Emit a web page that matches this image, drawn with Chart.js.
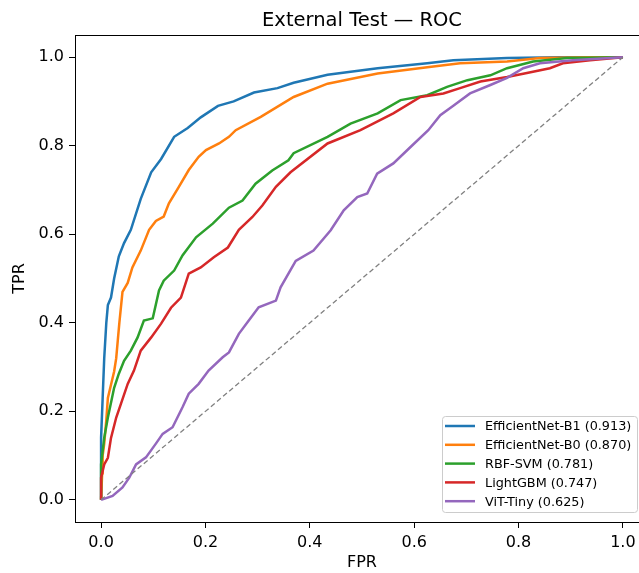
<!DOCTYPE html>
<html>
<head>
<meta charset="utf-8">
<script src="https://cdn.jsdelivr.net/npm/chart.js@4/dist/chart.umd.min.js"></script>
<style>
  html, body { margin: 0; padding: 0; background: #fff; overflow: hidden; }
  #wrap { position: relative; width: 639px; height: 573px; overflow: hidden; }
  canvas { position: absolute; left: 0; top: 0; }
</style>
</head>
<body>
<div id="wrap"><canvas id="roc" width="724" height="573"></canvas></div>
<script>
// ROC points (FPR, TPR)
const b1Fpr = [0, 0, 0.003, 0.006, 0.010, 0.013, 0.019, 0.025, 0.034, 0.044, 0.057, 0.076, 0.096, 0.115, 0.140, 0.166, 0.191, 0.224, 0.254, 0.293, 0.338, 0.369, 0.434, 0.530, 0.625, 0.675, 0.778, 0.880, 1];
const b1Tpr = [0, 0.14, 0.23, 0.32, 0.40, 0.44, 0.457, 0.50, 0.55, 0.58, 0.61, 0.68, 0.74, 0.77, 0.82, 0.84, 0.864, 0.89, 0.90, 0.92, 0.93, 0.942, 0.96, 0.975, 0.986, 0.993, 0.998, 1, 1];

const b0Fpr = [0, 0.002, 0.003, 0.006, 0.010, 0.013, 0.019, 0.025, 0.029, 0.032, 0.035, 0.041, 0.051, 0.060, 0.076, 0.092, 0.105, 0.120, 0.130, 0.149, 0.168, 0.187, 0.201, 0.226, 0.245, 0.258, 0.306, 0.369, 0.434, 0.530, 0.625, 0.688, 0.778, 0.841, 0.937, 1];
const b0Tpr = [0, 0.06, 0.10, 0.127, 0.18, 0.23, 0.26, 0.29, 0.32, 0.36, 0.40, 0.47, 0.49, 0.525, 0.563, 0.61, 0.63, 0.64, 0.67, 0.707, 0.745, 0.775, 0.79, 0.805, 0.82, 0.835, 0.865, 0.91, 0.94, 0.963, 0.977, 0.986, 0.99, 0.998, 1, 1];

const svmFpr = [0, 0, 0.006, 0.013, 0.025, 0.034, 0.044, 0.057, 0.070, 0.082, 0.099, 0.111, 0.120, 0.140, 0.156, 0.182, 0.214, 0.245, 0.271, 0.296, 0.328, 0.359, 0.369, 0.434, 0.478, 0.530, 0.574, 0.625, 0.663, 0.702, 0.746, 0.778, 0.828, 0.893, 1];
const svmTpr = [0, 0.08, 0.14, 0.186, 0.253, 0.285, 0.314, 0.337, 0.367, 0.405, 0.41, 0.473, 0.495, 0.518, 0.552, 0.593, 0.624, 0.66, 0.676, 0.714, 0.744, 0.767, 0.783, 0.82, 0.85, 0.873, 0.903, 0.914, 0.933, 0.948, 0.959, 0.975, 0.99, 0.998, 1];

const lgbFpr = [0, 0, 0.006, 0.013, 0.019, 0.029, 0.038, 0.051, 0.063, 0.076, 0.096, 0.115, 0.134, 0.153, 0.168, 0.191, 0.216, 0.243, 0.264, 0.290, 0.309, 0.335, 0.363, 0.434, 0.497, 0.560, 0.612, 0.656, 0.688, 0.727, 0.778, 0.816, 0.860, 0.885, 0.937, 1];
const lgbTpr = [0, 0.05, 0.08, 0.095, 0.14, 0.186, 0.217, 0.262, 0.292, 0.337, 0.367, 0.398, 0.434, 0.457, 0.511, 0.525, 0.548, 0.57, 0.61, 0.639, 0.665, 0.707, 0.74, 0.805, 0.835, 0.873, 0.91, 0.918, 0.93, 0.945, 0.955, 0.964, 0.975, 0.986, 0.993, 1];

const vitFpr = [0, 0.022, 0.041, 0.054, 0.067, 0.086, 0.105, 0.118, 0.137, 0.156, 0.168, 0.187, 0.206, 0.233, 0.245, 0.264, 0.283, 0.302, 0.335, 0.344, 0.373, 0.407, 0.440, 0.465, 0.491, 0.510, 0.529, 0.560, 0.593, 0.627, 0.650, 0.675, 0.707, 0.746, 0.778, 0.809, 0.841, 0.904, 1];
const vitTpr = [0, 0.009, 0.028, 0.05, 0.08, 0.096, 0.127, 0.149, 0.164, 0.209, 0.24, 0.262, 0.292, 0.322, 0.333, 0.375, 0.405, 0.435, 0.45, 0.48, 0.54, 0.563, 0.609, 0.654, 0.684, 0.692, 0.737, 0.76, 0.797, 0.835, 0.869, 0.89, 0.918, 0.937, 0.953, 0.975, 0.986, 0.993, 1];

const modelNames = ['EfficientNet-B1', 'EfficientNet-B0', 'RBF-SVM', 'LightGBM', 'ViT-Tiny'];
const aucValues = [0.913, 0.870, 0.781, 0.747, 0.625];
const tickValues = [0, 0.2, 0.4, 0.6, 0.8, 1.0];
const chartTitle = 'External Test — ROC';

const colors = ['#1f77b4', '#ff7f0e', '#2ca02c', '#d62728', '#9467bd'];
const curves = [[b1Fpr, b1Tpr], [b0Fpr, b0Tpr], [svmFpr, svmTpr], [lgbFpr, lgbTpr], [vitFpr, vitTpr]];
const font = "'DejaVu Sans', sans-serif";

const toPoints = (xs, ys) => xs.map((x, i) => ({x: x, y: ys[i]}));

const datasets = curves.map((c, i) => ({
    label: modelNames[i] + ' (' + aucValues[i].toFixed(3) + ')',
    data: toPoints(c[0], c[1]),
    borderColor: colors[i],
    borderWidth: 2.5,
    pointRadius: 0,
    tension: 0,
    order: 10 - i
}));
datasets.push({
    label: 'chance',
    data: toPoints([0, 1], [0, 1]),
    borderColor: '#808080',
    borderWidth: 1.3,
    borderDash: [5, 3],
    pointRadius: 0,
    order: 0
});

// axes frame, title over the axes and the legend box, matplotlib style
const framePlugin = {
    id: 'frame',
    afterDraw(chart) {
        const {ctx, chartArea: a} = chart;
        ctx.save();
        ctx.strokeStyle = '#000';
        ctx.lineWidth = 1;
        ctx.strokeRect(Math.round(a.left) + 0.5, Math.round(a.top) + 0.5,
            Math.round(a.right - a.left), Math.round(a.bottom - a.top));

        ctx.fillStyle = '#000';
        ctx.font = '19.5px ' + font;
        ctx.textAlign = 'center';
        ctx.textBaseline = 'alphabetic';
        ctx.fillText(chartTitle, (a.left + a.right) / 2, a.top - 9.5);

        const bx = a.right - 207, by = a.bottom - 106, bw = 195, bh = 96;
        ctx.fillStyle = 'rgba(255,255,255,0.85)';
        ctx.strokeStyle = '#cccccc';
        ctx.beginPath();
        ctx.roundRect(bx + 0.5, by + 0.5, bw, bh, 3);
        ctx.fill();
        ctx.stroke();

        ctx.font = '12.8px ' + font;
        ctx.textAlign = 'left';
        ctx.textBaseline = 'middle';
        for (let i = 0; i < modelNames.length; i++) {
            const y = by + 10 + i * 18.8;
            ctx.strokeStyle = colors[i];
            ctx.lineWidth = 2.5;
            ctx.beginPath();
            ctx.moveTo(bx + 3, y);
            ctx.lineTo(bx + 33, y);
            ctx.stroke();
            ctx.fillStyle = '#000';
            ctx.fillText(datasets[i].label, bx + 43, y + 1);
        }
        ctx.restore();
    }
};

const fixedTicks = scale => { scale.ticks = tickValues.map(v => ({value: v})); };

new Chart(document.getElementById('roc'), {
    type: 'line',
    data: {datasets: datasets},
    plugins: [framePlugin],
    options: {
        responsive: false,
        animation: false,
        devicePixelRatio: 1,
        layout: {padding: {left: 0, right: 75, top: 35, bottom: 0}},
        plugins: {
            legend: {display: false},
            tooltip: {enabled: false},
            title: {display: false}
        },
        scales: {
            x: {
                type: 'linear',
                min: -0.05,
                max: 1.05,
                afterBuildTicks: fixedTicks,
                afterFit(s) { s.height = 51; },
                grid: {drawOnChartArea: false, drawTicks: true, tickLength: 6, color: '#000', tickWidth: 1},
                border: {display: false},
                ticks: {color: '#000', padding: 5, maxRotation: 0, font: {family: font, size: 16},
                    callback: v => v.toFixed(1)},
                title: {display: true, text: 'FPR', color: '#000', font: {family: font, size: 16},
                    padding: {top: 0, bottom: 0.5}}
            },
            y: {
                type: 'linear',
                min: -0.05,
                max: 1.05,
                afterBuildTicks: fixedTicks,
                afterFit(s) { s.width = 75; },
                grid: {drawOnChartArea: false, drawTicks: true, tickLength: 6, color: '#000', tickWidth: 1},
                border: {display: false},
                ticks: {color: '#000', padding: 5, font: {family: font, size: 16},
                    callback: v => v.toFixed(1)},
                title: {display: true, text: 'TPR', color: '#000', font: {family: font, size: 16},
                    padding: {top: 10, bottom: 0}}
            }
        }
    }
});
</script>
</body>
</html>
